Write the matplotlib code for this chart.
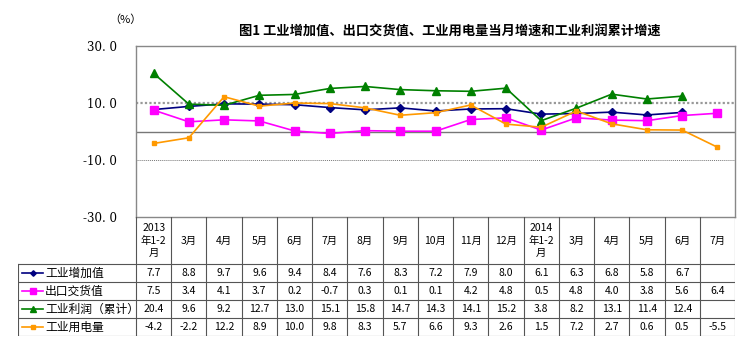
import numpy as np
import matplotlib.pyplot as plt

plt.rcParams['font.family'] = ['Noto Sans CJK SC', 'DejaVu Sans']

months = ['2013\n年1-2\n月', '3月', '4月', '5月', '6月', '7月', '8月', '9月', '10月', '11月',
          '12月', '2014\n年1-2\n月', '3月', '4月', '5月', '6月', '7月']
nan = np.nan
added_value = [7.7, 8.8, 9.7, 9.6, 9.4, 8.4, 7.6, 8.3, 7.2, 7.9, 8.0, 6.1, 6.3, 6.8, 5.8, 6.7, nan]
export_value = [7.5, 3.4, 4.1, 3.7, 0.2, -0.7, 0.3, 0.1, 0.1, 4.2, 4.8, 0.5, 4.8, 4.0, 3.8, 5.6, 6.4]
profit = [20.4, 9.6, 9.2, 12.7, 13.0, 15.1, 15.8, 14.7, 14.3, 14.1, 15.2, 3.8, 8.2, 13.1, 11.4, 12.4, nan]
electricity = [-4.2, -2.2, 12.2, 8.9, 10.0, 9.8, 8.3, 5.7, 6.6, 9.3, 2.6, 1.5, 7.2, 2.7, 0.6, 0.5, -5.5]
series_names = ['工业增加值', '出口交货值', '工业利润（累计）', '工业用电量']
yticks = [30, 10, -10, -30]

series = [added_value, export_value, profit, electricity]
styles = [dict(color='#000080', marker='D', ms=4, lw=1.2),
          dict(color='#FF00FF', marker='s', ms=6, lw=1.2),
          dict(color='#008000', marker='^', ms=6, lw=1.2),
          dict(color='#FF9900', marker='s', ms=3.5, lw=1.2)]

W, H = 756, 354
fig = plt.figure(figsize=(W / 100, H / 100), dpi=100)

# plot area in pixel coords
pl, pr, pt, pb = 136, 735, 46, 217
ax = fig.add_axes([pl / W, 1 - pb / H, (pr - pl) / W, (pb - pt) / H])
n = len(months)
x = np.arange(n)
ax.set_xlim(-0.5, n - 0.5)
ax.set_ylim(-30, 30)
ax.axhline(10, color='#999999', lw=1.6, ls=(0, (1, 1)), zorder=1)
ax.axhline(-10, color='#777777', lw=0.7, ls=(0, (1, 1)), zorder=1)
ax.axhline(0, color='#777777', lw=1.0, zorder=1)
for vals, st in zip(series, styles):
    ax.plot(x, vals, color=st['color'], marker=st['marker'], ms=st['ms'], lw=st['lw'],
            mec=st['color'], zorder=3)
ax.set_xticks([])
ax.set_yticks(yticks)
ax.set_yticklabels([f'{v:.1f}'.replace('.', '. ') for v in yticks], fontsize=8.5,
                   family=['DejaVu Serif'])
ax.tick_params(axis='y', length=0, pad=14)
for s in ax.spines.values():
    s.set_color('#888888')
    s.set_linewidth(1.0)

fig.text(125 / W, 1 - 20 / H, '（%）', fontsize=8, ha='center', va='center')
fig.text(450 / W, 1 - 31 / H, '图1 工业增加值、出口交货值、工业用电量当月增速和工业利润累计增速',
         fontsize=9.5, ha='center', va='center', weight='bold')

# table below the plot
tl, tb = 18, 336
tax = fig.add_axes([tl / W, 1 - tb / H, (pr - tl) / W, (tb - pb) / H])
tax.set_xlim(tl, pr)
tax.set_ylim(tb, pb)
tax.axis('off')
cw = (pr - pl) / n
row_edges = [217, 264, 282, 300, 318, 336]
lc = '#555555'
for k in range(n + 1):
    xe = pl + k * cw
    tax.plot([xe, xe], [pb, tb], color=lc, lw=0.8)
tax.plot([tl, tl], [row_edges[1], tb], color=lc, lw=0.8)
for r in row_edges[1:]:
    tax.plot([tl, pr], [r, r], color=lc, lw=0.8)
for k, m in enumerate(months):
    tax.text(pl + (k + 0.5) * cw, (row_edges[0] + row_edges[1]) / 2, m, fontsize=7.5,
             ha='center', va='center', linespacing=1.3)
for i, (vals, st, name) in enumerate(zip(series, styles, series_names)):
    yc = (row_edges[i + 1] + row_edges[i + 2]) / 2
    tax.plot([22, 43], [yc, yc], color=st['color'], lw=1.2)
    tax.plot([32.5], [yc], color=st['color'], marker=st['marker'], ms=st['ms'] * 0.7)
    tax.text(45, yc, name, fontsize=8.5, ha='left', va='center')
    for k, v in enumerate(vals):
        if not np.isnan(v):
            tax.text(pl + (k + 0.5) * cw, yc, f'{v:.1f}', fontsize=7.5,
                     ha='center', va='center')

fig.savefig('out.png', dpi=100)
